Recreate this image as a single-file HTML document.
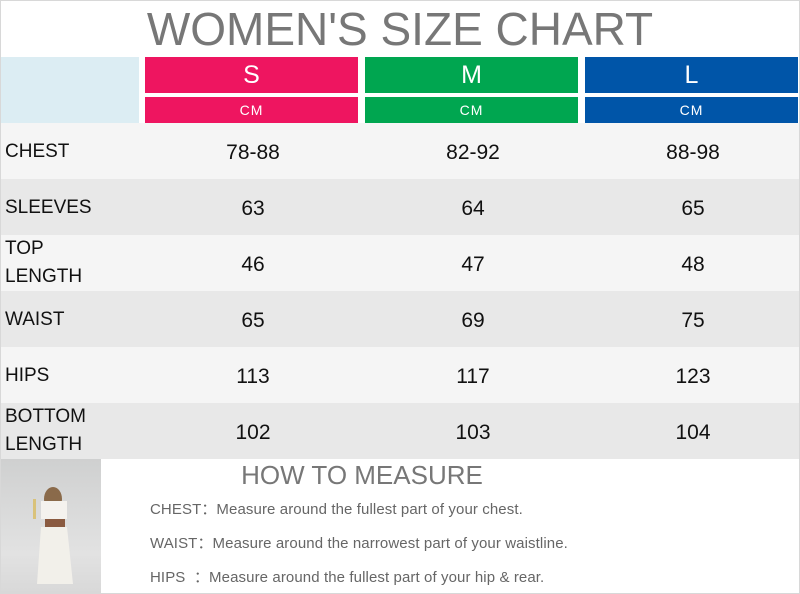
<!DOCTYPE html>
<html><head><meta charset="utf-8"><style>
*{margin:0;padding:0;box-sizing:border-box}
body{width:800px;height:594px;background:#fff;position:relative;overflow:hidden;font-family:"Liberation Sans","Noto Sans CJK SC",sans-serif}
.frame{position:absolute;left:0;top:0;width:800px;height:594px;border:1px solid #d8d8d8}
.abs{position:absolute}
.title{left:0;width:800px;top:2px;height:57px;text-align:center;font-size:46px;color:#777;line-height:54px;letter-spacing:0px}
.blue{left:1px;top:57px;width:138px;height:66px;background:#dcedf3}
.sz{height:36px;top:57px;color:#fff;font-size:25px;text-align:center;line-height:36px}
.cm{height:26px;top:97px;color:#fff;font-size:14px;text-align:center;line-height:27px;letter-spacing:1px}
.row{left:1px;width:798px;height:56px}
.lab{position:absolute;left:4px;font-size:19px;color:#111;line-height:28px}
.v{position:absolute;width:214px;text-align:center;font-size:21px;color:#111;top:2px;line-height:56px}
.h2{left:150px;width:424px;top:460px;text-align:center;font-size:26px;color:#777;line-height:30px}
.m{left:150px;font-size:15px;color:#666;letter-spacing:0.1px}
</style></head><body>
<div class="abs title">WOMEN'S SIZE CHART</div>
<div class="abs blue"></div>
<div class="abs sz" style="left:145px;width:213px;background:#ee1560">S</div>
<div class="abs sz" style="left:365px;width:213px;background:#00a650">M</div>
<div class="abs sz" style="left:585px;width:213px;background:#0055a8">L</div>
<div class="abs cm" style="left:145px;width:213px;background:#ee1560">CM</div>
<div class="abs cm" style="left:365px;width:213px;background:#00a650">CM</div>
<div class="abs cm" style="left:585px;width:213px;background:#0055a8">CM</div>

<div class="abs row" style="top:123px;background:#f5f5f5"><div class="lab" style="top:15px">CHEST</div><div class="v" style="left:145px">78-88</div><div class="v" style="left:365px">82-92</div><div class="v" style="left:585px">88-98</div></div>
<div class="abs row" style="top:179px;background:#e8e8e8"><div class="lab" style="top:15px">SLEEVES</div><div class="v" style="left:145px">63</div><div class="v" style="left:365px">64</div><div class="v" style="left:585px">65</div></div>
<div class="abs row" style="top:235px;background:#f5f5f5"><div class="lab" style="top:0px">TOP<br>LENGTH</div><div class="v" style="left:145px">46</div><div class="v" style="left:365px">47</div><div class="v" style="left:585px">48</div></div>
<div class="abs row" style="top:291px;background:#e8e8e8"><div class="lab" style="top:15px">WAIST</div><div class="v" style="left:145px">65</div><div class="v" style="left:365px">69</div><div class="v" style="left:585px">75</div></div>
<div class="abs row" style="top:347px;background:#f5f5f5"><div class="lab" style="top:15px">HIPS</div><div class="v" style="left:145px">113</div><div class="v" style="left:365px">117</div><div class="v" style="left:585px">123</div></div>
<div class="abs row" style="top:403px;background:#e8e8e8"><div class="lab" style="top:0px">BOTTOM<br>LENGTH</div><div class="v" style="left:145px">102</div><div class="v" style="left:365px">103</div><div class="v" style="left:585px">104</div></div>

<div class="abs" style="left:1px;top:459px;width:100px;height:135px;background:linear-gradient(#cfd0d0,#e2e2e2 70%,#d8d8d8)">
<svg width="100" height="135" style="position:absolute;left:0;top:0">
<ellipse cx="52" cy="40" rx="9" ry="12" fill="#8a6a4a"/>
<rect x="40" y="42" width="26" height="18" fill="#f4f2ee"/>
<rect x="44" y="60" width="20" height="8" fill="#8a5a40"/>
<path d="M40 68 L66 68 L72 125 L36 125 Z" fill="#f2f0ea"/>
<rect x="32" y="40" width="3" height="20" fill="#d9c27a"/>
</svg></div>

<div class="abs h2">HOW TO MEASURE</div>
<div class="abs m" style="top:498px">CHEST：Measure around the fullest part of your chest.</div>
<div class="abs m" style="top:532px">WAIST：Measure around the narrowest part of your waistline.</div>
<div class="abs m" style="top:566px">HIPS&nbsp;&nbsp;：Measure around the fullest part of your hip &amp; rear.</div>
<div class="frame"></div>
</body></html>
